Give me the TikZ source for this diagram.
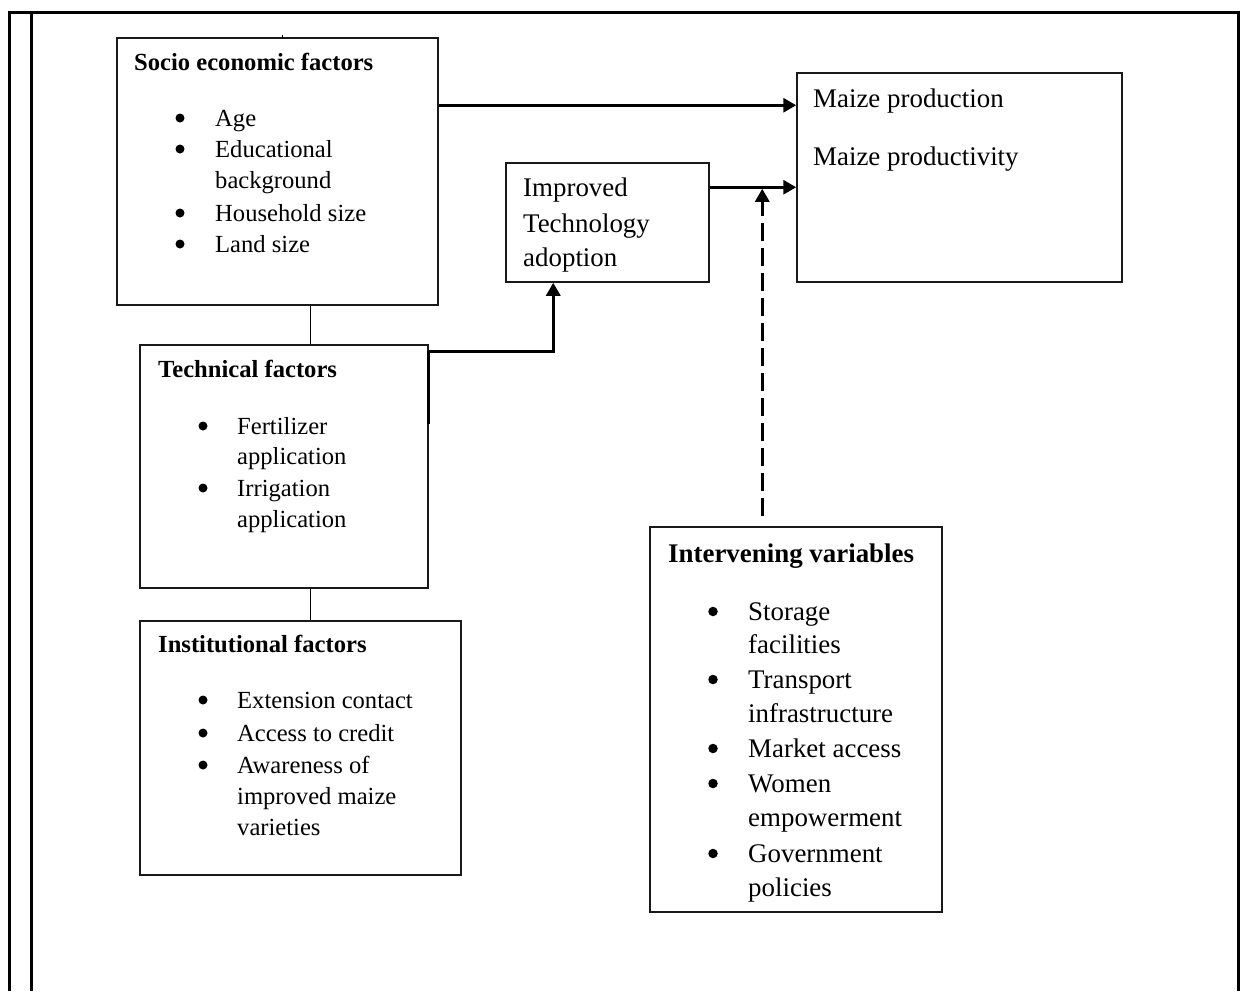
\documentclass[tikz,border=0pt]{standalone}
\usepackage{fontspec}
\setmainfont{Liberation Serif}
\usetikzlibrary{arrows.meta,calc}
\newcommand{\fsz}{\fontsize{24.6}{30}\selectfont}
\newcommand{\fszb}{\fontsize{26.9}{32}\selectfont}
\tikzset{
  box/.style={draw=black!90, line width=1.5pt, rectangle, inner sep=0pt},
  txt/.style={anchor=base west, inner sep=0pt, font=\fsz},
  ttl/.style={anchor=base west, inner sep=0pt, font=\fsz\bfseries},
  txtb/.style={anchor=base west, inner sep=0pt, font=\fszb},
  ttlb/.style={anchor=base west, inner sep=0pt, font=\fszb\bfseries},
  bul/.style={circle, fill=black, inner sep=0pt, minimum size=9pt, yshift=8pt},
  bulb/.style={circle, fill=black, inner sep=0pt, minimum size=9.5pt, yshift=8.5pt},
  arr/.style={line width=3pt, -{Triangle[length=13pt,width=14pt]}},
  darr/.style={line width=3pt, dash pattern=on 18pt off 7pt, -{Triangle[length=13pt,width=14pt]}},
  link/.style={line width=1.5pt},
}
\begin{document}
\begin{tikzpicture}[x=1pt,y=-1pt]
\useasboundingbox (0,0) rectangle (1249,991);
% outer frame
\draw[line width=3pt] (9,991) -- (9,12) -- (1238,12) -- (1238,991);
\draw[line width=3pt] (31,12) -- (31,991);

% boxes
\node[box, minimum width=321pt, minimum height=267pt] (socio) at (277.5,171.5) {};
\node[box, minimum width=288pt, minimum height=243pt] (tech) at (284,466.5) {};
\node[box, minimum width=321pt, minimum height=254pt] (inst) at (300.5,748) {};
\node[box, minimum width=203pt, minimum height=119pt] (imp) at (607.5,222.5) {};
\node[box, minimum width=325pt, minimum height=209pt] (maize) at (959.5,177.5) {};
\node[box, minimum width=292pt, minimum height=385pt] (inter) at (796,719.5) {};

\draw[line width=0.8pt] (282,35) -- (282,38);

% socio text
\node[ttl] (s0) at (134,70) {Socio economic factors};
\node[bul] (sb1) at (180,126) {};
\node[bul] (sb2) at (180,157) {};
\node[bul] (sb3) at (180,221) {};
\node[bul] (sb4) at (180,252) {};
\node[txt] (s1) at (215,126) {Age};
\node[txt] (s2) at (215,157) {Educational};
\node[txt] (s3) at (215,188) {background};
\node[txt] (s4) at (215,221) {Household size};
\node[txt] (s5) at (215,252) {Land size};

% technical text
\node[ttl] (t0) at (158,377) {Technical factors};
\node[bul] (tb1) at (203,434) {};
\node[bul] (tb2) at (203,496) {};
\node[txt] (t1) at (237,434) {Fertilizer};
\node[txt] (t2) at (237,464) {application};
\node[txt] (t3) at (237,496) {Irrigation};
\node[txt] (t4) at (237,527) {application};

% institutional text
\node[ttl] (n0) at (158,652) {Institutional factors};
\node[bul] (nb1) at (203,708) {};
\node[bul] (nb2) at (203,741) {};
\node[bul] (nb3) at (203,773) {};
\node[txt] (n1) at (237,708) {Extension contact};
\node[txt] (n2) at (237,741) {Access to credit};
\node[txt] (n3) at (237,773) {Awareness of};
\node[txt] (n4) at (237,804) {improved maize};
\node[txt] (n5) at (237,835) {varieties};

% improved technology
\node[txtb] (i1) at (523,196) {Improved};
\node[txtb] (i2) at (523,232) {Technology};
\node[txtb] (i3) at (523,266) {adoption};

% maize
\node[txtb] (m1) at (813,107) {Maize production};
\node[txtb] (m2) at (813,165) {Maize productivity};

% intervening
\node[ttlb] (v0) at (668,562) {Intervening variables};
\node[bulb] (vb1) at (713,620) {};
\node[bulb] (vb2) at (713,688) {};
\node[bulb] (vb3) at (713,757) {};
\node[bulb] (vb4) at (713,792) {};
\node[bulb] (vb5) at (713,862) {};
\node[txtb] (v1) at (748,620) {Storage};
\node[txtb] (v2) at (748,653) {facilities};
\node[txtb] (v3) at (748,688) {Transport};
\node[txtb] (v4) at (748,722) {infrastructure};
\node[txtb] (v5) at (748,757) {Market access};
\node[txtb] (v6) at (748,792) {Women};
\node[txtb] (v7) at (748,826) {empowerment};
\node[txtb] (v8) at (748,862) {Government};
\node[txtb] (v9) at (748,896) {policies};

% connectors
\coordinate (c1) at ($(socio.south west)+(194,0)$);
\draw[link] (c1) -- (c1 |- tech.north);
\draw[link] (c1 |- tech.south) -- (c1 |- inst.north);

\coordinate (a1) at ($(socio.north east)+(0,68)$);
\draw[arr] (a1) -- (a1 -| maize.west);

\coordinate (a2) at ($(imp.north east)+(0,25)$);
\draw[arr] (a2) -- (a2 -| maize.west);

\coordinate (a3) at ($(tech.north east)+(0,80)$);
\coordinate (a4) at ($(imp.south west)+(48,0)$);
\draw[line width=3pt] (a3) -- ($(tech.north east)+(0,7)$) coordinate (a5);
\draw[arr] (a5) -| (a4);

\coordinate (d0) at ($(inter.north west)+(113,-10)$);
\draw[darr, shorten >=1.5pt] (d0) -- (d0 |- a2);
\end{tikzpicture}
\end{document}
